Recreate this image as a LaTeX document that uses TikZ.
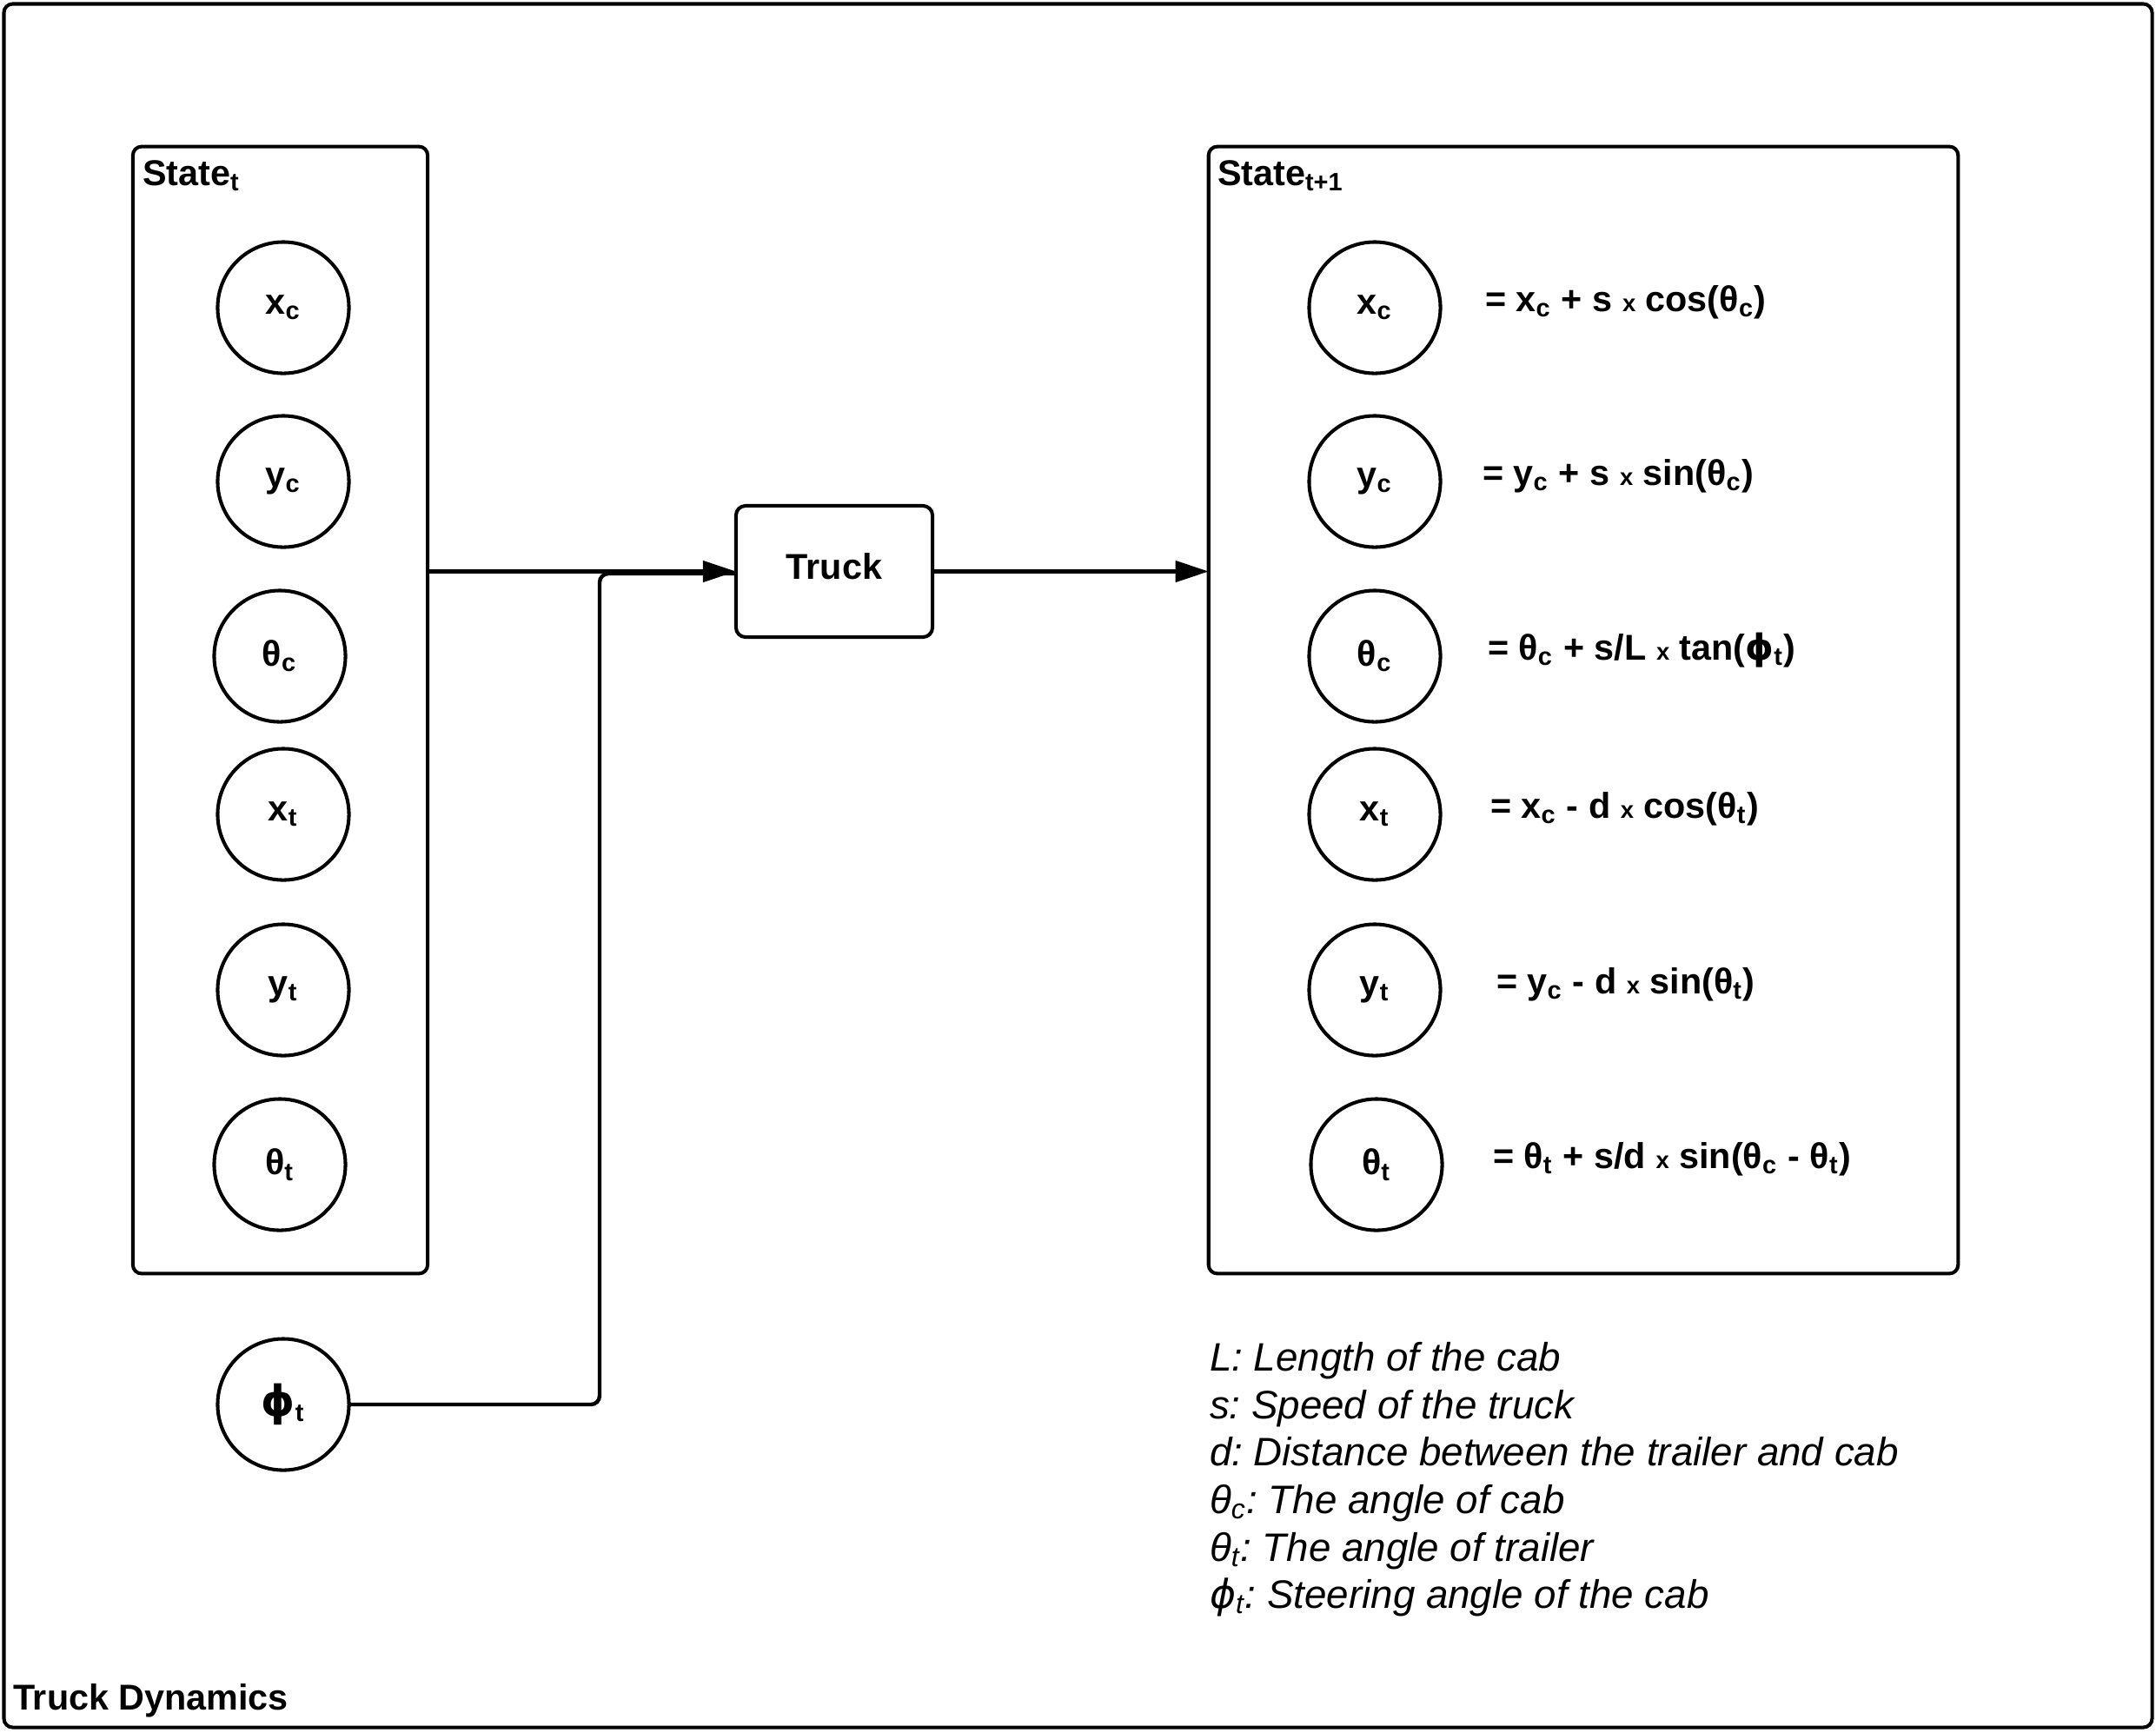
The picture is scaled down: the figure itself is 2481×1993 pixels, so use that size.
\documentclass[tikz,border=0pt]{standalone}
\usepackage{fontspec}
\setmainfont{Liberation Sans}
\newfontfamily\phifont{DejaVu Sans}
\usetikzlibrary{arrows.meta}
\frenchspacing
% small multiplication "x" used in the update equations
\newcommand\timesx{{\fontsize{7.8pt}{8pt}\selectfont x}}
% stroked phi, taken from DejaVu Sans
\newcommand\stphi{{\phifont ϕ}}
\begin{document}
\begin{tikzpicture}[x=0.01cm,y=-0.01cm,
  every node/.style={inner sep=0pt, outer sep=0pt},
  lbl/.style={font=\fontsize{11.75pt}{14pt}\selectfont\bfseries},
  var/.style={lbl, circle, draw, line width=1.15pt, minimum size=1.51cm},
  container/.style={draw, line width=1.15pt, rounded corners=0.1cm},
  eqn/.style={lbl, anchor=base west},
  legend/.style={font=\fontsize{13pt}{15.6pt}\selectfont\itshape, anchor=base west},
  conn/.style={line width=1.25pt},
  arrow/.style={conn, -{Triangle[length=0.38cm, width=0.24cm]}}
]
% page and outer frame
\useasboundingbox (0,0) rectangle (2481,1993);
\draw[line width=1.15pt, rounded corners=0.1cm] (4.5,4.5) rectangle (2476.5,1987.5);
\node[lbl, anchor=base west] (title) at (15,1967) {Truck Dynamics};

% state at time t
\node[container, minimum width=3.39cm, minimum height=12.96cm] (stateL) at (322.5,817) {};
\node[lbl, anchor=base west] (stateLlbl) at (164,213) {State\textsubscript{t}};
\node[var] (xc)  at (326,354)  {x\textsubscript{c}};
\node[var] (yc)  at (326,554)  {y\textsubscript{c}};
\node[var] (thc) at (322,755)  {θ\textsubscript{c}};
\node[var] (xt)  at (326,937)  {x\textsubscript{t}};
\node[var] (yt)  at (326,1139) {y\textsubscript{t}};
\node[var] (tht) at (322,1340) {θ\textsubscript{t}};

% steering input
\node[var] (phi) at (326,1616) {{\fontsize{14pt}{14pt}\selectfont\stphi}\textsubscript{t}};

% dynamics block
\node[draw, line width=1.15pt, rounded corners=0.11cm,
      minimum width=2.26cm, minimum height=1.51cm] (truck) at (960,657.5) {};
\node[lbl] (trucklbl) at (960,652) {Truck};

% state at time t+1
\node[container, minimum width=8.62cm, minimum height=12.96cm] (stateR) at (1822,817) {};
\node[lbl, anchor=base west] (stateRlbl) at (1401,213) {State\textsubscript{t+1}};
\node[var] (nxc)  at (1582,354)  {x\textsubscript{c}};
\node[var] (nyc)  at (1582,554)  {y\textsubscript{c}};
\node[var] (nthc) at (1582,755)  {θ\textsubscript{c}};
\node[var] (nxt)  at (1582,937)  {x\textsubscript{t}};
\node[var] (nyt)  at (1582,1139) {y\textsubscript{t}};
\node[var] (ntht) at (1584,1340) {θ\textsubscript{t}};

% update equations
\node[eqn] (e1) at (1709,358)  {= x\textsubscript{c} + s \timesx{} cos(θ\textsubscript{c})};
\node[eqn] (e2) at (1706,558)  {= y\textsubscript{c} + s \timesx{} sin(θ\textsubscript{c})};
\node[eqn] (e3) at (1712,759)  {= θ\textsubscript{c} + s/L \timesx{} tan(\stphi\textsubscript{t})};
\node[eqn] (e4) at (1715,941)  {= x\textsubscript{c} - d \timesx{} cos(θ\textsubscript{t})};
\node[eqn] (e5) at (1722,1143) {= y\textsubscript{c} - d \timesx{} sin(θ\textsubscript{t})};
\node[eqn] (e6) at (1718,1344) {= θ\textsubscript{t} + s/d \timesx{} sin(θ\textsubscript{c} - θ\textsubscript{t})};

% symbol legend
\node[legend] (g1) at (1392,1577) {L: Length of the cab};
\node[legend] (g2) at (1392,1632) {s: Speed of the truck};
\node[legend] (g3) at (1392,1686) {d: Distance between the trailer and cab};
\node[legend] (g4) at (1392,1741) {θ\textsubscript{c}: The angle of cab};
\node[legend] (g5) at (1392,1796) {θ\textsubscript{t}: The angle of trailer};
\node[legend] (g6) at (1392,1850) {\stphi\textsubscript{t}: Steering angle of the cab};

% connectors
\coordinate (join) at (690,660);
\draw[arrow] (stateL.east |- truck.west) -- (truck.west);
\draw[conn, rounded corners=0.1cm] (phi.east) -| (join) -- (join -| truck.west);
\draw[arrow] (truck.east) -- (truck.east -| stateR.west);
\end{tikzpicture}
\end{document}
